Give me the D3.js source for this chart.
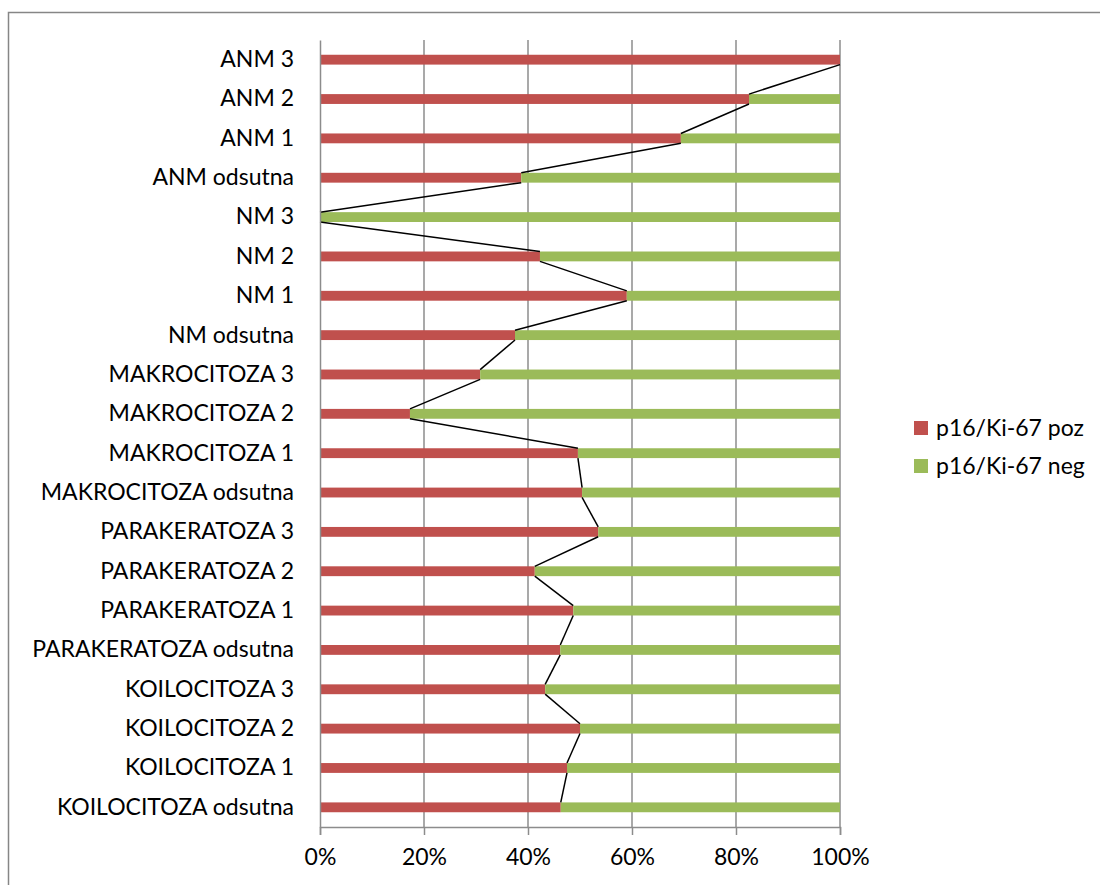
<!DOCTYPE html>
<html><head><meta charset="utf-8">
<script src="https://cdn.jsdelivr.net/npm/d3@7"></script>
<style>body{margin:0;background:#fff}svg{display:block}text{font-family:Lato,"Open Sans",sans-serif;fill:#000}</style>
</head><body><svg id="c" width="1100" height="885"></svg>
<script>
const categories = ["ANM 3","ANM 2","ANM 1","ANM odsutna","NM 3","NM 2","NM 1","NM odsutna",
 "MAKROCITOZA 3","MAKROCITOZA 2","MAKROCITOZA 1","MAKROCITOZA odsutna",
 "PARAKERATOZA 3","PARAKERATOZA 2","PARAKERATOZA 1","PARAKERATOZA odsutna",
 "KOILOCITOZA 3","KOILOCITOZA 2","KOILOCITOZA 1","KOILOCITOZA odsutna"];
const pozValues = [100,82.5,69.4,38.7,0,42.3,59.0,37.5,30.8,17.3,49.6,50.4,53.5,41.3,48.7,46.2,43.3,50.0,47.5,46.3];
const negValues = pozValues.map(v => 100 - v);
const seriesNames = ["p16/Ki-67 poz","p16/Ki-67 neg"];
const tickValues = [0,20,40,60,80,100];

const svg = d3.select("#c");
const L = 320, R = 840, T = 40, B = 827;
const x = d3.scaleLinear().domain([0,100]).range([L,R]);
const y = d3.scaleBand().domain(categories).range([T,B]).paddingInner(0.75).paddingOuter(0.375);
const colors = ["#C0504D","#9BBB59"];
const FONT = "Lato,'Open Sans',sans-serif";

// outer frame
svg.append("rect").attr("x",8.5).attr("y",12.5).attr("width",1100).attr("height",900)
  .attr("fill","none").attr("stroke","#868686").attr("stroke-width",1.5);

// gridlines
svg.append("g").selectAll("line").data(tickValues.slice(1)).join("line")
  .attr("x1",d=>x(d)).attr("x2",d=>x(d)).attr("y1",T).attr("y2",B)
  .attr("stroke","#8c8c8c").attr("stroke-width",1.5);

// bars
const data = categories.map((c,i)=>({c, poz:pozValues[i], neg:negValues[i]}));
const stack = d3.stack().keys(["poz","neg"])(data);
svg.append("g").selectAll("g").data(stack).join("g").attr("fill",(d,i)=>colors[i])
  .selectAll("rect").data(d=>d).join("rect")
  .attr("x",d=>x(d[0])).attr("width",d=>x(d[1])-x(d[0]))
  .attr("y",d=>y(d.data.c)).attr("height",y.bandwidth());

// series lines
const segs = [];
for (let i=0;i<categories.length-1;i++){
  segs.push([x(pozValues[i]), y(categories[i])+y.bandwidth(), x(pozValues[i+1]), y(categories[i+1])]);
}
svg.append("g").selectAll("line").data(segs).join("line")
  .attr("x1",d=>d[0]).attr("y1",d=>d[1]).attr("x2",d=>d[2]).attr("y2",d=>d[3])
  .attr("stroke","#000").attr("stroke-width",1.5);

// axes
const xa = svg.append("g").attr("transform",`translate(0,${B})`)
  .call(d3.axisBottom(x).tickValues(tickValues).tickFormat(d=>d+"%").tickSize(8).tickPadding(14));
xa.select(".domain").attr("stroke","#8c8c8c").attr("stroke-width",1.5);
xa.selectAll(".tick line").attr("stroke","#8c8c8c").attr("stroke-width",1.5);
xa.selectAll("text").attr("font-size",23).style("font-family",FONT);

const ya = svg.append("g").attr("transform",`translate(${L},0)`)
  .call(d3.axisLeft(y).tickSize(0).tickPadding(26));
ya.select(".domain").attr("stroke","#8c8c8c").attr("stroke-width",1.5);
ya.selectAll("text").attr("font-size",23).style("font-family",FONT);

// legend
const lg = svg.append("g").selectAll("g").data(seriesNames).join("g")
  .attr("transform",(d,i)=>`translate(914,${428+i*38})`);
lg.append("rect").attr("x",0).attr("y",-7).attr("width",14).attr("height",14).attr("fill",(d,i)=>colors[i]);
lg.append("text").attr("x",22).attr("dy","0.35em").attr("font-size",23).style("font-family",FONT).text(d=>d);
</script></body></html>
